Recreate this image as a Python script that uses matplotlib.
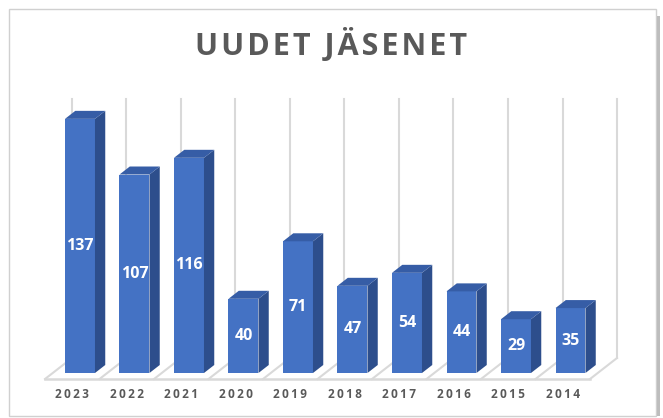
import matplotlib.pyplot as plt
from matplotlib.patches import Polygon, Rectangle

# Dados do gráfico
vuodet = ['2023', '2022', '2021', '2020', '2019', '2018', '2017', '2016', '2015', '2014']
jasenet = [137, 107, 116, 40, 71, 47, 54, 44, 29, 35]
otsikko = 'UUDET JÄSENET'

# Cores
sininen = '#4472C4'
sivu = '#2D4E8C'
katto = '#365DA6'
harmaa = '#D9D9D9'
teksti = '#595959'

# Profundidade "3D" (em unidades de categoria / valor)
DX = 0.495
DY = 11.32
D_ETU = 0.286
D_TAKA = 0.667
LEVEYS = 0.55
YLA = 150.9

FONTIT = ['Open Sans', 'DejaVu Sans']


def proj(x, y, d):
    return (x + d * DX, y + d * DY)


# espaçamento entre letras
def harvenna(s, vali='\u200a'):
    return vali.join(s)


fig = plt.figure(figsize=(6.63, 4.18), dpi=100)
ax = fig.add_axes([0, 0, 1, 1])
ax.set_xlim(-0.826, 11.339)
ax.set_ylim(-21.02, 204.31)
ax.axis('off')

n = len(vuodet)

# Parede do fundo (linhas verticais) e diagonais do chão
for k in range(n + 1):
    x0, y0 = proj(k, 0, 1)
    ax.plot([x0, x0], [y0, YLA], color=harmaa, lw=1.5, zorder=1)
    x1, y1 = proj(k, 0, 0)
    ax.plot([x1, x0], [y1, y0], color=harmaa, lw=1.5, zorder=1)

# borda da frente do chão
ax.plot([0, n], [0, 0], color=harmaa, lw=1.8, zorder=1)

# Barras
xs = [i + 0.5 + D_ETU * DX for i in range(n)]
ax.bar(xs, jasenet, width=LEVEYS, bottom=D_ETU * DY, color=sininen, zorder=3)

for i, v in enumerate(jasenet):
    vasen = i + 0.5 - LEVEYS / 2
    oikea = i + 0.5 + LEVEYS / 2
    # lado direito
    lado = [proj(oikea, 0, D_ETU), proj(oikea, 0, D_TAKA),
            proj(oikea, v, D_TAKA), proj(oikea, v, D_ETU)]
    ax.add_patch(Polygon(lado, closed=True, facecolor=sivu, edgecolor='none', zorder=3))
    # topo
    topo = [proj(vasen, v, D_ETU), proj(oikea, v, D_ETU),
            proj(oikea, v, D_TAKA), proj(vasen, v, D_TAKA)]
    ax.add_patch(Polygon(topo, closed=True, facecolor=katto, edgecolor='none', zorder=3))
    # rótulo do valor
    ax.text(xs[i], D_ETU * DY + v / 2, str(v), color='white', fontsize=11.5,
            fontweight='bold', family=FONTIT, ha='center', va='center', zorder=4)
    # rótulo do ano
    ax.text(i + 0.5, -8.6, harvenna(vuodet[i], '\u2009'), color=teksti, fontsize=8.5,
            fontweight='bold', family=FONTIT, ha='center', va='center')

# Título
fig.text(331 / 663, 1 - 45 / 418, harvenna(otsikko), color=teksti, fontsize=22,
         fontweight='bold', family=FONTIT, ha='center', va='center')

# Moldura
fig.patches.append(Rectangle((9 / 663, 2 / 418), 647 / 663, 407 / 418,
                             transform=fig.transFigure, fill=False,
                             edgecolor='#D0D0D0', lw=1))
fig.patches.append(Rectangle((657 / 663, 2 / 418), 3 / 663, 400 / 418,
                             transform=fig.transFigure, facecolor='#BDBDBD',
                             edgecolor='none'))

fig.savefig('out.png', dpi=100)
